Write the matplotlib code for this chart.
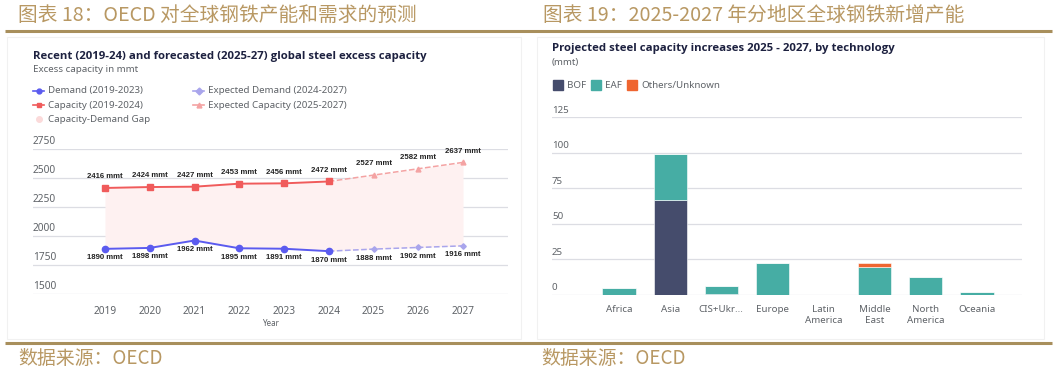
import matplotlib
matplotlib.use("Agg")
import matplotlib.pyplot as plt
from matplotlib.patches import Rectangle
import numpy as np

# data - left chart
years = [2019, 2020, 2021, 2022, 2023, 2024, 2025, 2026, 2027]
capacity = [2416, 2424, 2427, 2453, 2456, 2472]          # 2019-2024
exp_capacity = [2472, 2527, 2582, 2637]                   # 2024-2027
demand = [1890, 1898, 1962, 1895, 1891, 1870]             # 2019-2024
exp_demand = [1870, 1888, 1902, 1916]                     # 2024-2027
left_yticks = [1500, 1750, 2000, 2250, 2500, 2750]

# data - right chart
regions = ["Africa", "Asia", "CIS+Ukr...", "Europe", "Latin\nAmerica",
           "Middle\nEast", "North\nAmerica", "Oceania"]
bof = [0, 67, 1, 0, 0, 0, 0, 0]
eaf = [4.7, 32, 5.3, 22.3, 0, 20, 12.9, 2.1]
others = [0, 0, 0, 0, 0, 2.2, 0, 0]
right_yticks = [0, 25, 50, 75, 100, 125]

GOLD = "#A88F5C"
GOLD_TXT = "#B89863"
NAVY = "#1d2140"
GREY = "#5f6368"
GRID = "#dcdde3"
RED = "#F05B5B"
RED_L = "#F4A3A3"
BLUE = "#5B5BEF"
BLUE_L = "#A9A5EC"
BOF_C = "#454C6C"
EAF_C = "#46ADA4"
OTH_C = "#EF6530"

W, H = 1058, 378
fig = plt.figure(figsize=(W / 100, H / 100), dpi=100)
fig.patch.set_facecolor("white")

cjk = ["Noto Sans CJK SC", "DejaVu Sans"]
latin = ["Noto Sans", "DejaVu Sans"]
bold = ["Open Sans", "DejaVu Sans"]
lbl = ["Liberation Sans", "DejaVu Sans"]

# overlay in pixel coordinates for frame, headings and legends
ov = fig.add_axes([0, 0, 1, 1], zorder=0)
ov.set_xlim(0, W)
ov.set_ylim(H, 0)
ov.axis("off")

# cards
ov.add_patch(Rectangle((7, 37), 514, 302, fill=False, edgecolor="#f1f1f1", lw=0.8))
ov.add_patch(Rectangle((537, 37), 507, 302, fill=False, edgecolor="#f1f1f1", lw=0.8))

# gold rules
ov.plot([5, 1052], [31, 31], color=GOLD, lw=2.2, solid_capstyle="butt")
ov.plot([5, 1052], [342.5, 342.5], color=GOLD, lw=2.2, solid_capstyle="butt")

ov.text(18, 15, "图表 18：OECD 对全球钢铁产能和需求的预测", family=cjk, fontsize=14.2,
        color=GOLD_TXT, va="center", ha="left")
ov.text(543, 15, "图表 19：2025-2027 年分地区全球钢铁新增产能", family=cjk, fontsize=14.2,
        color=GOLD_TXT, va="center", ha="left")
ov.text(18, 359, "数据来源：OECD", family=cjk, fontsize=13.6, color=GOLD_TXT,
        va="center", ha="left")
ov.text(541, 359, "数据来源：OECD", family=cjk, fontsize=13.6, color=GOLD_TXT,
        va="center", ha="left")

# left headings
ov.text(33, 56, "Recent (2019-24) and forecasted (2025-27) global steel excess capacity",
        family=bold, fontsize=8.2, fontweight="bold", color=NAVY, va="center")
ov.text(33, 70, "Excess capacity in mmt", family=latin, fontsize=7, color=GREY, va="center")

legend_items = [
    (33, 90.5, BLUE, "o", "Demand (2019-2023)"),
    (33, 105, RED, "s", "Capacity (2019-2024)"),
    (193, 90.5, BLUE_L, "D", "Expected Demand (2024-2027)"),
    (193, 105, RED_L, "^", "Expected Capacity (2025-2027)"),
]
for x0, y0, c, mk, lab in legend_items:
    ov.plot([x0, x0 + 11], [y0, y0], color=c, lw=1.2, ls="-")
    ov.plot([x0 + 5.5], [y0], marker=mk, color=c, ms=3.5)
    ov.text(x0 + 15, y0, lab, family=latin, fontsize=7, color=GREY, va="center")
ov.plot([38.5], [119], marker="o", color="#FBDADA", ms=4)
ov.text(48, 119, "Capacity-Demand Gap", family=latin, fontsize=7, color=GREY, va="center")

# right headings
ov.text(552, 48, "Projected steel capacity increases 2025 - 2027, by technology",
        family=bold, fontsize=8.2, fontweight="bold", color=NAVY, va="center")
ov.text(552, 62, "(mmt)", family=latin, fontsize=7, color=GREY, va="center")
for x0, c, lab in [(553, BOF_C, "BOF"), (591, EAF_C, "EAF"), (627, OTH_C, "Others/Unknown")]:
    ov.add_patch(Rectangle((x0, 80), 10, 10, color=c))
    ov.text(x0 + 14, 85.5, lab, family=latin, fontsize=7, color=GREY, va="center")

# ---------------- left chart ----------------
def frac_box(x0, x1, ytop, ybot):
    return [x0 / W, 1 - ybot / H, (x1 - x0) / W, (ybot - ytop) / H]

axl = fig.add_axes(frac_box(33, 508, 149.3, 294), zorder=1)
axl.patch.set_alpha(0)
px = 44.75
axl.set_xlim(2019 - 72 / px, 2027 + 45 / px)
axl.set_ylim(1500, 2750)
for s in axl.spines.values():
    s.set_visible(False)
axl.set_yticks(left_yticks)
axl.yaxis.grid(True, color=GRID, lw=0.9)
axl.tick_params(axis="y", length=0, labelleft=False)
axl.set_axisbelow(True)
for t in left_yticks:
    axl.text(0, t + 18, str(t), transform=axl.get_yaxis_transform(), family=latin,
             fontsize=7.3, color=GREY, ha="left", va="bottom")
axl.set_xticks(years)
axl.set_xticklabels([str(y) for y in years], family=latin, fontsize=7.3, color=GREY)
axl.tick_params(axis="x", length=0, pad=9)
axl.set_xlabel("Year", family=latin, fontsize=5.8, color=GREY, labelpad=1)

cap_all = capacity + exp_capacity[1:]
dem_all = demand + exp_demand[1:]
axl.fill_between(years, dem_all, cap_all, color="#FEF1F1", lw=0, zorder=1)
axl.plot(years[5:], exp_capacity, color=RED_L, ls="--", lw=1.1, marker="^", ms=3.5, zorder=3)
axl.plot(years[5:], exp_demand, color=BLUE_L, ls="--", lw=1.1, marker="D", ms=2.8, zorder=3)
axl.plot(years[:6], capacity, color=RED, lw=1.4, marker="s", ms=4.5, zorder=4)
axl.plot(years[:6], demand, color=BLUE, lw=1.4, marker="o", ms=4.5, zorder=4)
for x, v in zip(years, cap_all):
    axl.annotate(f"{v} mmt", (x, v), xytext=(0, 5.5), textcoords="offset points",
                 ha="center", va="bottom", fontsize=5.6, fontweight="bold",
                 color="#222222", family=lbl)
for x, v in zip(years, dem_all):
    axl.annotate(f"{v} mmt", (x, v), xytext=(0, -4), textcoords="offset points",
                 ha="center", va="top", fontsize=5.6, fontweight="bold",
                 color="#222222", family=lbl)

# ---------------- right chart ----------------
axr = fig.add_axes(frac_box(552, 1022, 117.1, 295), zorder=1)
axr.patch.set_alpha(0)
sp = 51.1
xs = np.arange(len(regions))
axr.set_xlim(-67 / sp, 7 + 45 / sp)
axr.set_ylim(0, 125)
for s in axr.spines.values():
    s.set_visible(False)
axr.set_yticks(right_yticks)
axr.yaxis.grid(True, color=GRID, lw=0.9)
axr.tick_params(axis="y", length=0, labelleft=False)
axr.set_axisbelow(True)
for t in right_yticks:
    axr.text(0, t + 1.8, str(t), transform=axr.get_yaxis_transform(), family=latin,
             fontsize=7, color=GREY, ha="left", va="bottom")
bw = 0.65
bof = np.array(bof)
eaf = np.array(eaf)
others = np.array(others)
axr.bar(xs, bof, bw, color=BOF_C, edgecolor="white", lw=0.4, zorder=2)
axr.bar(xs, eaf, bw, bottom=bof, color=EAF_C, edgecolor="white", lw=0.4, zorder=2)
axr.bar(xs, others, bw, bottom=bof + eaf, color=OTH_C, edgecolor="white", lw=0.4, zorder=2)
axr.set_xticks(xs)
axr.set_xticklabels(regions, family=latin, fontsize=7, color=GREY, linespacing=1.3)
axr.tick_params(axis="x", length=0, pad=7)

fig.savefig("out.png", dpi=100, facecolor="white")
